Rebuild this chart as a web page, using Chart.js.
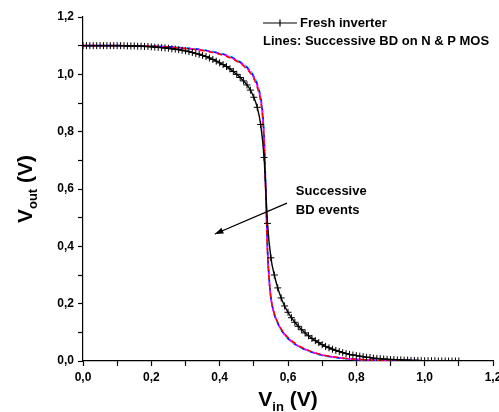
<!DOCTYPE html>
<html>
<head>
<meta charset="utf-8">
<script src="https://cdn.jsdelivr.net/npm/chart.js@4/dist/chart.umd.min.js"></script>
<style>
  html, body { margin: 0; padding: 0; background: #fff; }
  #wrap { width: 499px; height: 412px; position: relative; }
</style>
</head>
<body>
<div id="wrap"><canvas id="vtc"></canvas></div>
<script>
// Fresh inverter, Vin step 0.01 V
const vinFresh = [
  0.00, 0.01, 0.02, 0.03, 0.04, 0.05, 0.06, 0.07, 0.08, 0.09,
  0.10, 0.11, 0.12, 0.13, 0.14, 0.15, 0.16, 0.17, 0.18, 0.19,
  0.20, 0.21, 0.22, 0.23, 0.24, 0.25, 0.26, 0.27, 0.28, 0.29,
  0.30, 0.31, 0.32, 0.33, 0.34, 0.35, 0.36, 0.37, 0.38, 0.39,
  0.40, 0.41, 0.42, 0.43, 0.44, 0.45, 0.46, 0.47, 0.48, 0.49,
  0.50, 0.51, 0.52, 0.53, 0.54, 0.55, 0.56, 0.57, 0.58, 0.59,
  0.60, 0.61, 0.62, 0.63, 0.64, 0.65, 0.66, 0.67, 0.68, 0.69,
  0.70, 0.71, 0.72, 0.73, 0.74, 0.75, 0.76, 0.77, 0.78, 0.79,
  0.80, 0.81, 0.82, 0.83, 0.84, 0.85, 0.86, 0.87, 0.88, 0.89,
  0.90, 0.91, 0.92, 0.93, 0.94, 0.95, 0.96, 0.97, 0.98, 0.99,
  1.00, 1.01, 1.02, 1.03, 1.04, 1.05, 1.06, 1.07, 1.08, 1.09,
  1.10
];
const voutFresh = [
  1.100, 1.100, 1.100, 1.100, 1.100, 1.100, 1.100, 1.100, 1.100, 1.100,
  1.100, 1.100, 1.100, 1.099, 1.099, 1.099, 1.098, 1.098, 1.097, 1.097,
  1.096, 1.095, 1.094, 1.093, 1.092, 1.091, 1.089, 1.088, 1.086, 1.084,
  1.082, 1.079, 1.076, 1.073, 1.070, 1.066, 1.062, 1.057, 1.052, 1.046,
  1.040, 1.034, 1.027, 1.019, 1.010, 1.000, 0.989, 0.977, 0.963, 0.945,
  0.920, 0.885, 0.825, 0.710, 0.480, 0.360, 0.300, 0.255, 0.220, 0.192,
  0.170, 0.151, 0.135, 0.121, 0.109, 0.098, 0.088, 0.079, 0.071, 0.064,
  0.057, 0.051, 0.046, 0.041, 0.037, 0.033, 0.029, 0.026, 0.023, 0.021,
  0.019, 0.017, 0.015, 0.013, 0.012, 0.010, 0.009, 0.008, 0.007, 0.006,
  0.005, 0.005, 0.004, 0.004, 0.003, 0.003, 0.002, 0.002, 0.002, 0.001,
  0.001, 0.001, 0.001, 0.001, 0.000, 0.000, 0.000, 0.000, 0.000, 0.000,
  0.000
];

// Successive BD on N & P MOS (dashed coloured lines)
const vinBD = [0.00, 0.10, 0.20, 0.25, 0.30, 0.35, 0.40, 0.43, 0.46, 0.48,
  0.50, 0.51, 0.52, 0.525, 0.53, 0.535, 0.54, 0.545, 0.55, 0.56,
  0.57, 0.58, 0.60, 0.62, 0.65, 0.70, 0.75, 0.80, 0.85, 0.90, 1.00, 1.10];
const bdRed = [1.100, 1.100, 1.098, 1.095, 1.090, 1.083, 1.070, 1.058, 1.038, 1.018,
  0.985, 0.955, 0.905, 0.860, 0.760, 0.580, 0.380, 0.280, 0.220, 0.165,
  0.135, 0.112, 0.082, 0.062, 0.042, 0.022, 0.012, 0.006, 0.003, 0.002, 0.001, 0.000];
const bdMagenta = [1.100, 1.100, 1.098, 1.095, 1.091, 1.084, 1.072, 1.060, 1.040, 1.021,
  0.988, 0.960, 0.912, 0.868, 0.770, 0.590, 0.385, 0.282, 0.220, 0.164,
  0.133, 0.110, 0.080, 0.060, 0.041, 0.021, 0.011, 0.006, 0.003, 0.002, 0.001, 0.000];
const bdBlue = [1.100, 1.100, 1.098, 1.096, 1.091, 1.085, 1.073, 1.062, 1.042, 1.024,
  0.992, 0.965, 0.918, 0.875, 0.780, 0.600, 0.390, 0.285, 0.222, 0.163,
  0.132, 0.109, 0.079, 0.059, 0.040, 0.020, 0.011, 0.005, 0.003, 0.002, 0.001, 0.000];
const bdCyan = [1.100, 1.100, 1.098, 1.096, 1.092, 1.086, 1.074, 1.063, 1.044, 1.026,
  0.995, 0.968, 0.922, 0.880, 0.785, 0.605, 0.392, 0.286, 0.222, 0.162,
  0.131, 0.108, 0.078, 0.058, 0.039, 0.020, 0.010, 0.005, 0.003, 0.002, 0.001, 0.000];

const axisMin = 0;
const axisMax = 1.2;
const tickStep = 0.1;

// annotation arrow (data coords)
const arrowFrom = { x: 0.597, y: 0.551 };
const arrowTo = { x: 0.386, y: 0.443 };
const noteAt = { x: 0.623, y: 0.59 };

const FONT = '"Liberation Sans", Arial, sans-serif';

function pairs(xs, ys) {
    return xs.map((x, i) => ({ x: x, y: ys[i] }));
}

function fmtTick(value) {
    const r = Math.round(value * 10);
    if (r % 2 !== 0) return '';
    return (r / 10).toFixed(1).replace('.', ',');
}

function bdSet(data, color, offset) {
    return {
        label: 'BD',
        data: pairs(vinBD, data),
        borderColor: color,
        borderWidth: 1.6,
        borderDash: [5, 4],
        borderDashOffset: offset,
        pointRadius: 0,
        fill: false,
        cubicInterpolationMode: 'monotone'
    };
}

// legend, axis titles and the arrow note
const decorations = {
    id: 'decorations',
    afterDraw(chart) {
        const ctx = chart.ctx;
        const xs = chart.scales.x;
        const ys = chart.scales.y;
        const area = chart.chartArea;
        ctx.save();
        ctx.fillStyle = '#000';
        ctx.strokeStyle = '#000';

        // legend
        ctx.lineWidth = 1.2;
        ctx.beginPath();
        ctx.moveTo(263, 23); ctx.lineTo(297, 23);
        ctx.moveTo(280, 19.5); ctx.lineTo(280, 26.5);
        ctx.moveTo(276.5, 23); ctx.lineTo(283.5, 23);
        ctx.stroke();
        ctx.font = 'bold 13px ' + FONT;
        ctx.textBaseline = 'middle';
        ctx.textAlign = 'left';
        ctx.fillText('Fresh inverter', 300, 23);
        ctx.fillText('Lines: Successive BD on N & P MOS', 263, 41);

        // note text
        const nx = xs.getPixelForValue(noteAt.x);
        const ny = ys.getPixelForValue(noteAt.y);
        ctx.fillText('Successive', nx, ny);
        ctx.fillText('BD events', nx, ny + 19);

        // arrow
        const x1 = xs.getPixelForValue(arrowFrom.x), y1 = ys.getPixelForValue(arrowFrom.y);
        const x2 = xs.getPixelForValue(arrowTo.x), y2 = ys.getPixelForValue(arrowTo.y);
        ctx.lineWidth = 1.3;
        ctx.beginPath();
        ctx.moveTo(x1, y1); ctx.lineTo(x2, y2);
        ctx.stroke();
        const ang = Math.atan2(y2 - y1, x2 - x1);
        ctx.beginPath();
        ctx.moveTo(x2, y2);
        ctx.lineTo(x2 - 9 * Math.cos(ang - 0.35), y2 - 9 * Math.sin(ang - 0.35));
        ctx.lineTo(x2 - 9 * Math.cos(ang + 0.35), y2 - 9 * Math.sin(ang + 0.35));
        ctx.closePath();
        ctx.fill();

        // x title  V_in (V)
        const big = 'bold 21px ' + FONT;
        const small = 'bold 13px ' + FONT;
        ctx.textBaseline = 'alphabetic';
        ctx.font = big;
        const wV = ctx.measureText('V').width;
        const wP = ctx.measureText(' (V)').width;
        ctx.font = small;
        const wIn = ctx.measureText('in').width;
        let tx = (area.left + area.right) / 2 - (wV + wIn + wP) / 2;
        const ty = 406;
        ctx.font = big;
        ctx.fillText('V', tx, ty);
        ctx.font = small;
        ctx.fillText('in', tx + wV, ty + 5);
        ctx.font = big;
        ctx.fillText(' (V)', tx + wV + wIn, ty);

        // y title  V_out (V)
        ctx.font = small;
        const wOut = ctx.measureText('out').width;
        ctx.translate(32, (area.top + area.bottom) / 2);
        ctx.rotate(-Math.PI / 2);
        tx = -(wV + wOut + wP) / 2;
        ctx.font = big;
        ctx.fillText('V', tx, 0);
        ctx.font = small;
        ctx.fillText('out', tx + wV, 5);
        ctx.font = big;
        ctx.fillText(' (V)', tx + wV + wOut, 0);
        ctx.restore();
    }
};

function axisOpts(fit) {
    return {
        type: 'linear',
        min: axisMin,
        max: axisMax,
        border: { display: true, color: '#000', width: 1.2 },
        grid: {
            display: true,
            drawOnChartArea: false,
            drawTicks: true,
            tickLength: 5,
            tickColor: '#000',
            tickWidth: 1.2
        },
        ticks: {
            stepSize: tickStep,
            autoSkip: false,
            maxRotation: 0,
            color: '#000',
            padding: 4,
            font: { family: FONT, size: 12, weight: 'bold' },
            callback: fmtTick
        },
        afterFit: fit
    };
}

new Chart(document.getElementById('vtc'), {
    type: 'line',
    data: {
        datasets: [
            {
                label: 'Fresh inverter',
                data: pairs(vinFresh, voutFresh),
                borderColor: '#000',
                borderWidth: 1.4,
                pointStyle: 'cross',
                pointRadius: 3.5,
                pointBorderWidth: 1,
                pointBorderColor: '#000',
                fill: false,
                cubicInterpolationMode: 'monotone'
            },
            bdSet(bdRed, '#ff0000', 0),
            bdSet(bdMagenta, '#ff00ff', 2),
            bdSet(bdBlue, '#0000ff', 4),
            bdSet(bdCyan, '#00e5ff', 6)
        ]
    },
    options: {
        responsive: true,
        maintainAspectRatio: false,
        animation: false,
        layout: { padding: { top: 17, right: 6, left: 0, bottom: 0 } },
        plugins: {
            legend: { display: false },
            tooltip: { enabled: false }
        },
        scales: {
            x: axisOpts(function(scale) {
                scale.height = 51;
                scale.paddingLeft = 0;
                scale.paddingRight = 0;
            }),
            y: axisOpts(function(scale) {
                scale.width = 83;
                scale.paddingTop = 0;
                scale.paddingBottom = 0;
            })
        }
    },
    plugins: [decorations]
});
</script>
</body>
</html>
